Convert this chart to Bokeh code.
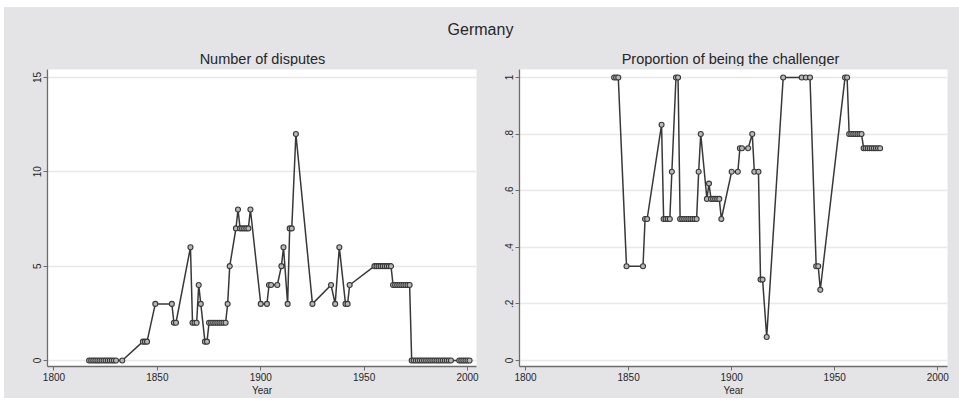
from bokeh.plotting import figure
from bokeh.models import Range1d, FixedTicker, CustomJSTickFormatter, ColumnDataSource, Spacer
from bokeh.layouts import column, row
from bokeh.embed import file_html
from bokeh.resources import INLINE
from bokeh.core.properties import value

# ---------------- data ----------------
main_title = "Germany"
left_title = "Number of disputes"
right_title = "Proportion of being the challenger"
x_label = "Year"
x_ticks = [1800, 1850, 1900, 1950, 2000]
left_y_ticks = [0, 5, 10, 15]
right_y_ticks = [0, 0.2, 0.4, 0.6, 0.8, 1]

dispute_years = [
    1817, 1818, 1819, 1820, 1821, 1822, 1823, 1824, 1825, 1826, 1827, 1828, 1829, 1830, 1833,
    1843, 1844, 1845, 1849, 1857, 1858, 1859, 1866, 1867, 1868, 1869, 1870, 1871, 1873, 1874,
    1875, 1876, 1877, 1878, 1879, 1880, 1881, 1882, 1883, 1884, 1885, 1888, 1889, 1890, 1891,
    1892, 1893, 1894, 1895, 1900, 1903, 1904, 1905, 1908, 1910, 1911, 1913, 1914, 1915, 1917,
    1925, 1934, 1936, 1938, 1941, 1942, 1943, 1955, 1956, 1957, 1958, 1959, 1960, 1961, 1962,
    1963, 1964, 1965, 1966, 1967, 1968, 1969, 1970, 1971, 1972, 1973, 1974, 1975, 1976, 1977,
    1978, 1979, 1980, 1981, 1982, 1983, 1984, 1985, 1986, 1987, 1988, 1989, 1990, 1991, 1992,
    1996, 1997, 1998, 1999, 2000, 2001,
]
disputes = [
    0, 0, 0, 0, 0, 0, 0, 0, 0, 0, 0, 0, 0, 0, 0,
    1, 1, 1, 3, 3, 2, 2, 6, 2, 2, 2, 4, 3, 1, 1,
    2, 2, 2, 2, 2, 2, 2, 2, 2, 3, 5, 7, 8, 7, 7,
    7, 7, 7, 8, 3, 3, 4, 4, 4, 5, 6, 3, 7, 7, 12,
    3, 4, 3, 6, 3, 3, 4, 5, 5, 5, 5, 5, 5, 5, 5,
    5, 4, 4, 4, 4, 4, 4, 4, 4, 4, 0, 0, 0, 0, 0,
    0, 0, 0, 0, 0, 0, 0, 0, 0, 0, 0, 0, 0, 0, 0,
    0, 0, 0, 0, 0, 0,
]

prop_years = [
    1843, 1844, 1845, 1849, 1857, 1858, 1859, 1866, 1867, 1868, 1869, 1870, 1871, 1873, 1874,
    1875, 1876, 1877, 1878, 1879, 1880, 1881, 1882, 1883, 1884, 1885, 1888, 1889, 1890, 1891,
    1892, 1893, 1894, 1895, 1900, 1903, 1904, 1905, 1908, 1910, 1911, 1913, 1914, 1915, 1917,
    1925, 1934, 1936, 1938, 1941, 1942, 1943, 1955, 1956, 1957, 1958, 1959, 1960, 1961, 1962,
    1963, 1964, 1965, 1966, 1967, 1968, 1969, 1970, 1971, 1972,
]
proportion = [
    1, 1, 1, 0.333, 0.333, 0.5, 0.5, 0.833, 0.5, 0.5, 0.5, 0.5, 0.667, 1, 1,
    0.5, 0.5, 0.5, 0.5, 0.5, 0.5, 0.5, 0.5, 0.5, 0.667, 0.8, 0.571, 0.625, 0.571, 0.571,
    0.571, 0.571, 0.571, 0.5, 0.667, 0.667, 0.75, 0.75, 0.75, 0.8, 0.667, 0.667, 0.286, 0.286, 0.083,
    1, 1, 1, 1, 0.333, 0.333, 0.25, 1, 1, 0.8, 0.8, 0.8, 0.8, 0.8, 0.8,
    0.8, 0.75, 0.75, 0.75, 0.75, 0.75, 0.75, 0.75, 0.75, 0.75,
]

# ---------------- style ----------------
BG = "#e4e4e6"
FONT = "Liberation Sans"
LINE = "#383838"
AXIS = "#6c6c6c"
GRID = "#e8e8e8"
TXT = "#262626"

# header with titles (coordinates in page pixels)
header = figure(width=955, height=59, x_range=Range1d(4, 959), y_range=Range1d(66, 7),
                output_backend="svg", toolbar_location=None, min_border=0,
                x_axis_location=None, y_axis_location=None,
                background_fill_color=BG, border_fill_color=BG, outline_line_color=None)
header.grid.visible = False
header.text(x=[480], y=[29], text=[main_title], text_font=value(FONT), text_font_size="16px",
            text_align="center", text_baseline="middle", text_color=TXT)
header.text(x=[262, 730], y=[58, 58], text=[left_title, right_title], text_font=value(FONT),
            text_font_size="14.5px", text_align="center", text_baseline="middle", text_color=TXT)


def make_plot(width, xr, yr, yticks, border_left, border_right, years, vals, fmt=None):
    p = figure(width=width, height=332, x_range=xr, y_range=yr,
               output_backend="svg", toolbar_location=None,
               min_border_left=border_left, min_border_right=border_right,
               min_border_top=3, min_border_bottom=32,
               background_fill_color="white", border_fill_color=BG, outline_line_color=None)
    p.xgrid.visible = False
    p.ygrid.grid_line_color = GRID
    p.ygrid.grid_line_width = 1.5
    p.xaxis.ticker = FixedTicker(ticks=x_ticks)
    p.yaxis.ticker = FixedTicker(ticks=yticks)
    if fmt is not None:
        p.yaxis.formatter = fmt
    for ax in (p.xaxis[0], p.yaxis[0]):
        ax.axis_line_color = AXIS
        ax.axis_line_width = 1.3
        ax.major_tick_line_color = AXIS
        ax.major_tick_out = 4
        ax.major_tick_in = 0
        ax.minor_tick_line_color = None
        ax.major_label_text_font = FONT
        ax.major_label_text_font_size = "10px"
        ax.major_label_text_color = TXT
        ax.major_label_standoff = 2
    p.yaxis.major_label_orientation = "vertical"
    p.xaxis.axis_label = x_label
    p.xaxis.axis_label_text_font = FONT
    p.xaxis.axis_label_text_font_size = "10px"
    p.xaxis.axis_label_text_font_style = "normal"
    p.xaxis.axis_label_text_color = TXT
    p.xaxis.axis_label_standoff = 1
    src = ColumnDataSource(dict(x=years, y=vals))
    p.line("x", "y", source=src, line_color=LINE, line_width=1.5)
    p.scatter("x", "y", source=src, marker="circle", size=5, line_color=LINE,
              line_width=1.1, fill_color="#b8b8b8")
    return p


p1 = make_plot(494, Range1d(1796.86, 2004.35), Range1d(-0.318, 15.42), left_y_ticks, 43, 22,
               dispute_years, disputes)

prop_fmt = CustomJSTickFormatter(code="""
    if (Math.abs(tick) < 1e-9) return '0';
    if (Math.abs(tick - 1) < 1e-9) return '1';
    return tick.toFixed(1).replace(/^0/, '');
""")
p2 = make_plot(461, Range1d(1797.09, 2004.7), Range1d(-0.021, 1.028), right_y_ticks, 21, 12,
               prop_years, proportion, prop_fmt)

inner = column(header, row(p1, p2, spacing=0, styles={"background-color": BG}),
               spacing=0, styles={"background-color": BG})
layout = column(Spacer(width=955, height=7),
                row(Spacer(width=4, height=391), inner, spacing=0),
                spacing=0)

open("out.html", "w").write(file_html(layout, INLINE))
